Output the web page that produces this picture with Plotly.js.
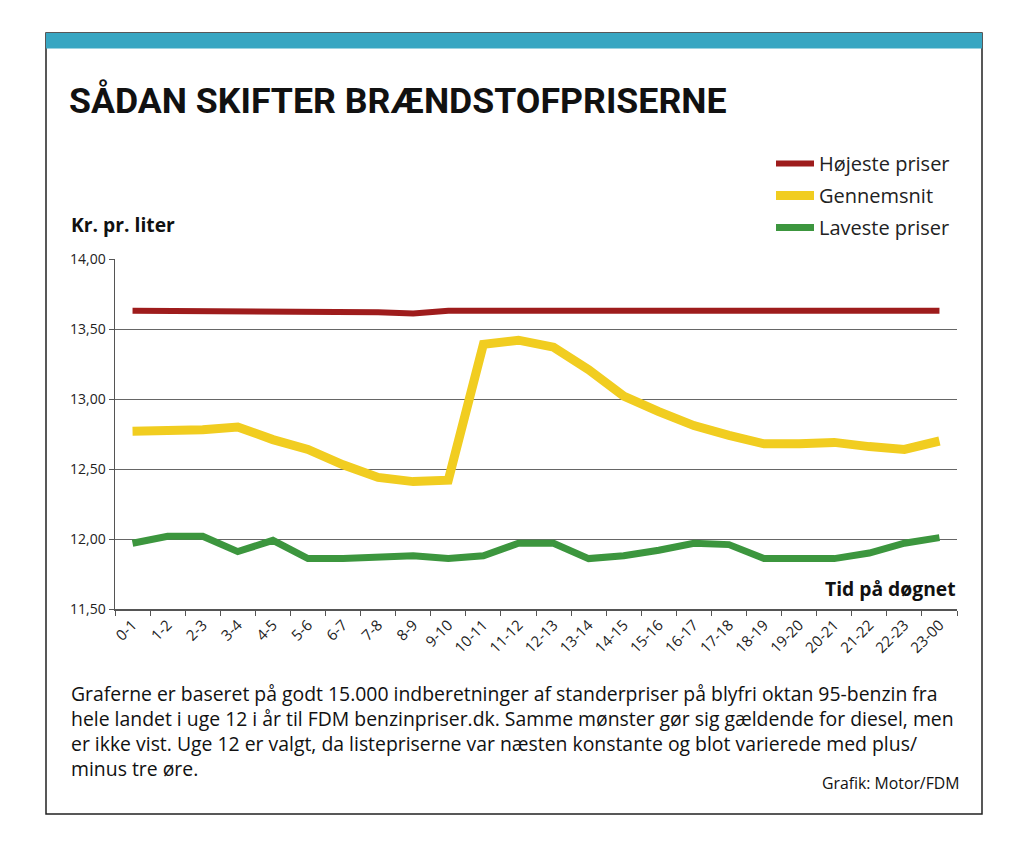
<!DOCTYPE html>
<html>
<head>
<meta charset="utf-8">
<script src="https://cdn.plot.ly/plotly-3.0.1.min.js"></script>
<style>
  html, body { margin: 0; padding: 0; background: #fff; }
  #chart { width: 1024px; height: 853px; }
</style>
</head>
<body>
<div id="chart"></div>
<script>
const hours = ["0-1","1-2","2-3","3-4","4-5","5-6","6-7","7-8","8-9","9-10","10-11","11-12",
  "12-13","13-14","14-15","15-16","16-17","17-18","18-19","19-20","20-21","21-22","22-23","23-00"];
const highest = [13.63,13.63,13.63,13.63,13.63,13.63,13.63,13.62,13.61,13.63,13.63,13.63,
  13.63,13.63,13.63,13.63,13.63,13.63,13.63,13.63,13.63,13.63,13.63,13.63];
const average = [12.77,12.77,12.78,12.80,12.71,12.64,12.53,12.44,12.41,12.42,13.39,13.42,
  13.37,13.21,13.02,12.91,12.81,12.74,12.68,12.68,12.69,12.66,12.64,12.70];
const lowest = [11.97,12.02,12.02,11.91,11.99,11.86,11.86,11.87,11.88,11.86,11.88,11.97,
  11.97,11.86,11.88,11.92,11.97,11.96,11.86,11.86,11.86,11.90,11.97,12.01];
const seriesNames = ["Højeste priser","Gennemsnit","Laveste priser"];
const titleText = "SÅDAN SKIFTER BRÆNDSTOFPRISERNE";
const yTitle = "Kr. pr. liter";
const xTitle = "Tid på døgnet";
const footerLines = [
  "Graferne er baseret på godt 15.000 indberetninger af standerpriser på blyfri oktan 95-benzin fra",
  "hele landet i uge 12 i år til FDM benzinpriser.dk. Samme mønster gør sig gældende for diesel, men",
  "er ikke vist. Uge 12 er valgt, da listepriserne var næsten konstante og blot varierede med plus/",
  "minus tre øre."
];
const credit = "Grafik: Motor/FDM";

const FONT = "'Open Sans', Roboto, sans-serif";
const TFONT = "Roboto, sans-serif";
const L = 115, R = 957, T = 259, B = 609, W = 1024, H = 853;
const px = x => (x - L) / (R - L);
const py = y => (B - y) / (B - T);

const traces = [
  {x: hours, y: highest, name: seriesNames[0], legendgroup: "a", mode: "lines",
   line: {color: "#9e1c1c", width: 6}},
  {x: hours, y: average, name: seriesNames[1], legendgroup: "b", mode: "lines",
   line: {color: "#f1cd20", width: 9}},
  {x: hours, y: lowest, name: seriesNames[2], legendgroup: "c", mode: "lines",
   line: {color: "#3c963e", width: 7}}
];

const annotations = [
  {text: "<b>" + titleText + "</b>", x: px(67), y: py(101), xref: "paper", yref: "paper",
   xanchor: "left", yanchor: "middle", showarrow: false,
   font: {family: TFONT, size: 35.7, color: "#111"}},
  {text: "<b>" + yTitle + "</b>", x: px(69), y: py(225), xref: "paper", yref: "paper",
   xanchor: "left", yanchor: "middle", showarrow: false,
   font: {family: FONT, size: 19.3, color: "#111"}},
  {text: "<b>" + xTitle + "</b>", x: px(958), y: py(588), xref: "paper", yref: "paper",
   xanchor: "right", yanchor: "middle", showarrow: false,
   font: {family: FONT, size: 19.3, color: "#111"}},
  {text: credit, x: px(962), y: py(783), xref: "paper", yref: "paper",
   xanchor: "right", yanchor: "middle", showarrow: false,
   font: {family: FONT, size: 15.8, color: "#111"}}
];
footerLines.forEach((t, i) => {
  annotations.push({text: t, x: px(69), y: py(693 + i * 25), xref: "paper", yref: "paper",
    xanchor: "left", yanchor: "middle", showarrow: false,
    font: {family: FONT, size: 19.4, color: "#111"}});
});

const shapes = [
  {type: "rect", xref: "paper", yref: "paper", x0: px(46), x1: px(982), y0: py(814), y1: py(33),
   line: {color: "#222", width: 1.5}, fillcolor: "rgba(0,0,0,0)", layer: "below"},
  {type: "rect", xref: "paper", yref: "paper", x0: px(46), x1: px(982), y0: py(48.5), y1: py(33),
   line: {width: 0}, fillcolor: "#38a6c2", layer: "below"}
];

const layout = {
  width: W, height: H,
  margin: {l: L, r: W - R, t: T, b: H - B, pad: 0},
  paper_bgcolor: "#fff", plot_bgcolor: "#fff",
  separators: ",.",
  font: {family: FONT, color: "#222"},
  showlegend: true,
  legend: {x: px(771), y: py(144), xanchor: "left", yanchor: "top",
    font: {family: FONT, size: 20, color: "#222"}, traceorder: "grouped",
    tracegroupgap: 3, bgcolor: "rgba(0,0,0,0)", itemwidth: 38},
  xaxis: {type: "category", range: [-0.5, 23.5], tickson: "boundaries",
    ticks: "outside", ticklen: 5, tickcolor: "#555", showgrid: false,
    showline: true, linecolor: "#555", linewidth: 1.5, tickangle: -45,
    tickfont: {family: FONT, size: 15, color: "#222"}, fixedrange: true},
  yaxis: {range: [11.5, 14], dtick: 0.5, tick0: 11.5, tickformat: ".2f",
    ticks: "outside", ticklen: 5, tickcolor: "#555", showgrid: true,
    gridcolor: "#666", gridwidth: 1, showline: true, linecolor: "#555", linewidth: 1.5,
    zeroline: false, tickfont: {family: FONT, size: 14, color: "#222"}, fixedrange: true},
  annotations: annotations,
  shapes: shapes
};

Plotly.newPlot("chart", traces, layout, {displayModeBar: false, staticPlot: true});
</script>
</body>
</html>
